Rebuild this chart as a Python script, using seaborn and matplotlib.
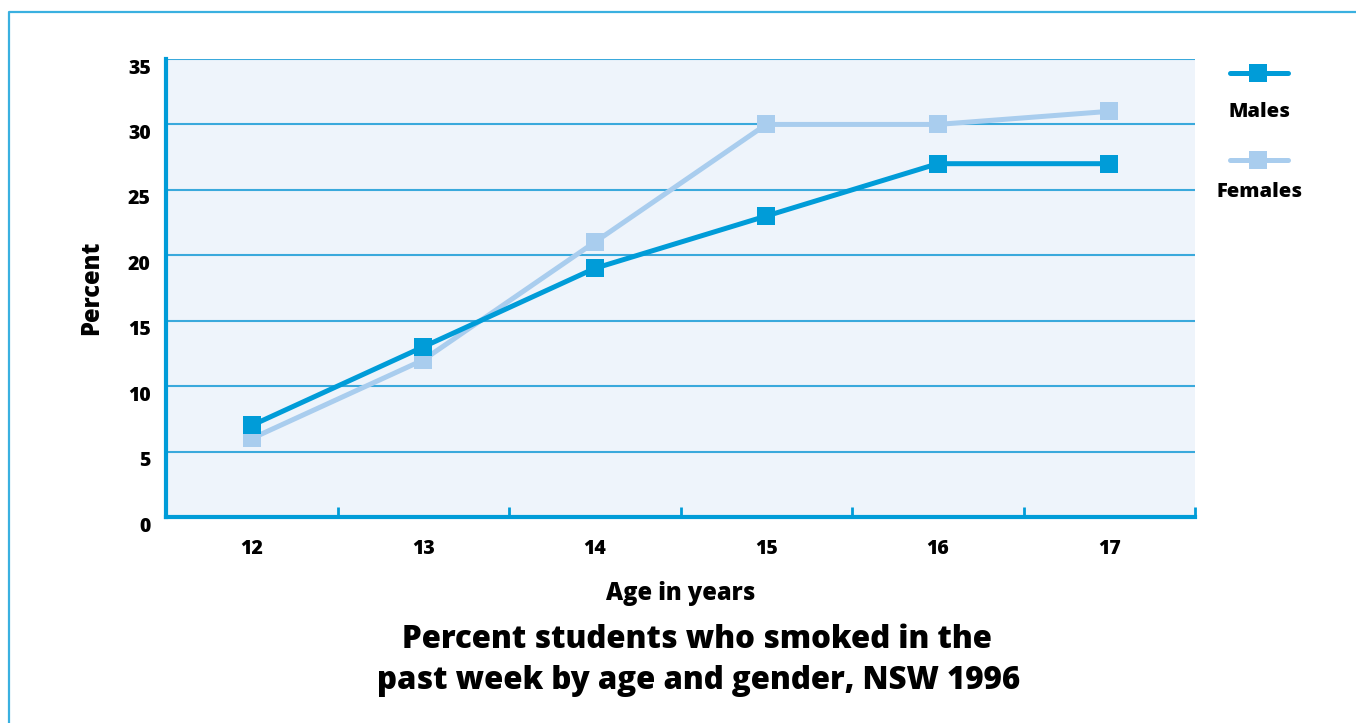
import matplotlib
matplotlib.use("Agg")
import matplotlib.pyplot as plt
import matplotlib.transforms as mtransforms
from matplotlib.lines import Line2D
import numpy as np
import pandas as pd
import seaborn as sns

# Survey results: share of students who smoked in the past week
ages = ["12", "13", "14", "15", "16", "17"]
males = [7, 13, 19, 23, 27, 27]
females = [6, 12, 21, 30, 30, 31]
series_names = ["Males", "Females"]
y_ticks = [0, 5, 10, 15, 20, 25, 30, 35]

MALE_C = "#009cd8"
FEMALE_C = "#a9cdee"
AXIS_C = "#009cd8"
GRID_C = "#3aa9dc"
BG_C = "#eef4fb"
W = 800

df = pd.DataFrame({
    "age": list(range(len(ages))) * 2,
    "pct": males + females,
    "sex": [series_names[0]] * len(ages) + [series_names[1]] * len(ages),
})

sns.set_theme(style="white")
plt.rcParams["font.family"] = ["Open Sans", "DejaVu Sans"]
plt.rcParams["font.weight"] = W

fig = plt.figure(figsize=(13.56, 7.23), dpi=100)
ax = fig.add_axes([166 / 1356, 1 - 517 / 723, (1195 - 166) / 1356, (517 - 59) / 723])
ax.set_facecolor(BG_C)

# Females underneath, males on top
sns.lineplot(data=df[df.sex == "Females"], x="age", y="pct", color=FEMALE_C,
             marker="s", markersize=12.5, markeredgewidth=0, linewidth=3.6,
             ax=ax, legend=False, zorder=3)
sns.lineplot(data=df[df.sex == "Males"], x="age", y="pct", color=MALE_C,
             marker="s", markersize=12.5, markeredgewidth=0, linewidth=3.6,
             ax=ax, legend=False, zorder=4)

ax.set_xlim(-0.5, len(ages) - 0.5)
ax.set_ylim(0, 35)

# Horizontal grid lines
for v in y_ticks[1:]:
    ax.axhline(v, color=GRID_C, linewidth=1.5, zorder=1)

for side in ["top", "right"]:
    ax.spines[side].set_visible(False)
for side in ["left", "bottom"]:
    ax.spines[side].set_color(AXIS_C)
    ax.spines[side].set_linewidth(3)
    ax.spines[side].set_zorder(5)

ax.set_xticks(range(len(ages)))
ax.set_xticklabels(ages)
ax.set_xticks(np.arange(0.5, len(ages), 1.0), minor=True)
ax.tick_params(axis="x", which="major", length=0, pad=16, labelsize=14)
ax.tick_params(axis="x", which="minor", direction="in", length=7.5, width=2,
               color=AXIS_C, bottom=True)
ax.set_yticks(y_ticks)
ax.tick_params(axis="y", length=0, pad=11, labelsize=14)
for lbl in ax.get_yticklabels():
    lbl.set_transform(lbl.get_transform() +
                      mtransforms.ScaledTranslation(0, -7 / 100, fig.dpi_scale_trans))
for lbl in ax.get_xticklabels() + ax.get_yticklabels():
    lbl.set_fontweight(W)
    lbl.set_color("black")

ax.set_xlabel("Age in years", fontsize=17, fontweight=W, color="black")
ax.xaxis.set_label_coords(0.5, -(594 - 517) / 458, transform=ax.transAxes)
ax.xaxis.label.set_va("center")
ax.set_ylabel("Percent", fontsize=17, fontweight=W, color="black")
ax.yaxis.set_label_coords(-(166 - 92) / 1029, 0.5)
ax.yaxis.label.set_va("center")

fig.text(697 / 1356, 1 - 640 / 723, "Percent students who smoked in the",
         ha="center", va="center", fontsize=22.5, fontweight=W, color="black")
fig.text(699 / 1356, 1 - 681 / 723, "past week by age and gender, NSW 1996",
         ha="center", va="center", fontsize=22.5, fontweight=W, color="black")

# Legend: line sample above each label
for name, color, y_line, y_text in [("Males", MALE_C, 73, 112), ("Females", FEMALE_C, 160, 192)]:
    fig.add_artist(Line2D([1230 / 1356, 1288 / 1356], [1 - y_line / 723] * 2,
                          color=color, linewidth=3.6, solid_capstyle="round",
                          transform=fig.transFigure))
    fig.add_artist(Line2D([1258 / 1356], [1 - y_line / 723], color=color,
                          marker="s", markersize=12.5, markeredgewidth=0,
                          linestyle="none", transform=fig.transFigure))
    fig.text(1259 / 1356, 1 - y_text / 723, name, ha="center", va="center",
             fontsize=14.5, fontweight=W, color="black")

# Frame line along the top and left edges
fig.add_artist(Line2D([8.5 / 1356, 8.5 / 1356, 1.0], [0.0, 1 - 11.5 / 723, 1 - 11.5 / 723],
                      color="#3ab0e0", linewidth=1.6, transform=fig.transFigure))

fig.savefig("out.png", dpi=100)
